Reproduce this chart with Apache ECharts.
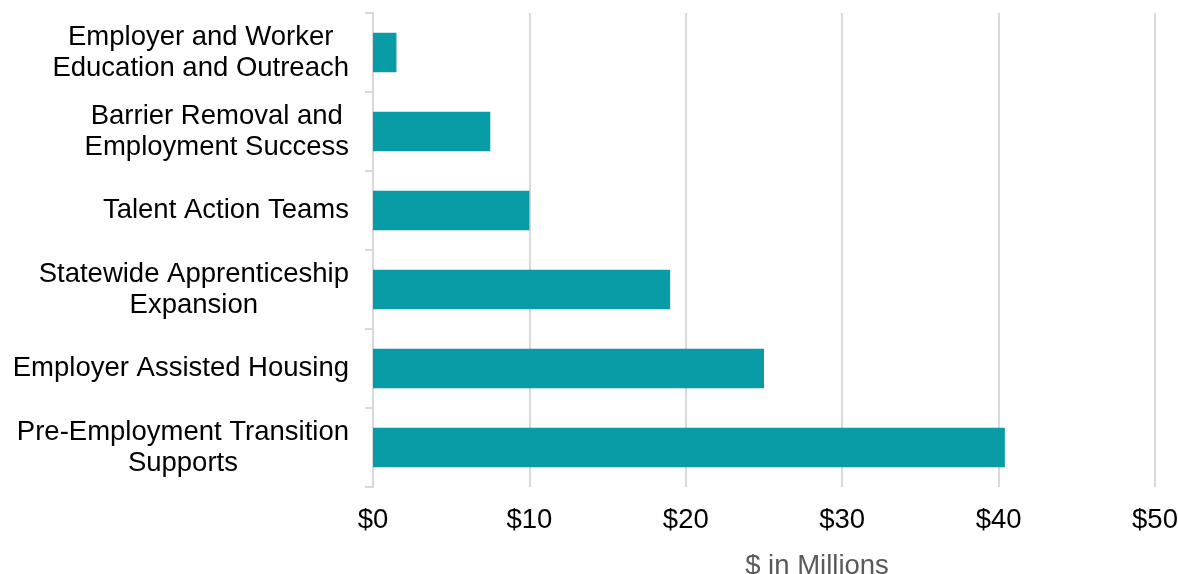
<!DOCTYPE html>
<html>
<head>
<meta charset="utf-8">
<script src="https://cdn.jsdelivr.net/npm/echarts@6/dist/echarts.min.js"></script>
<style>
  html, body { margin: 0; padding: 0; background: #fff; }
  #chart { width: 1178px; height: 574px; }
</style>
</head>
<body>
<div id="chart"></div>
<script>
// Program funding, $ in millions
const categories = [
  'Employer and Worker\nEducation and Outreach',
  'Barrier Removal and\nEmployment Success',
  'Talent Action Teams',
  'Statewide Apprenticeship\nExpansion',
  'Employer Assisted Housing',
  'Pre-Employment Transition\nSupports'
];
const funding = [1.5, 7.5, 10, 19, 25, 40.4];
const xTicks = { min: 0, max: 50, interval: 10 };
const axisTitle = '$ in Millions';

const FONT = '"Liberation Sans", Arial, sans-serif';
const GRID_GREY = '#d9d9d9';
const LABEL_SIZE = 27.5;

// Each line of a category label is centred within its block; the block is right-aligned to the axis.
const centredLines = s => s.split('\n').map(line => '{c|' + line.trim() + '}').join('\n');

const chart = echarts.init(document.getElementById('chart'), null, { renderer: 'canvas' });
chart.setOption({
  backgroundColor: '#ffffff',
  animation: false,
  grid: { left: 373, right: 23, top: 13, bottom: 87, containLabel: false, outerBoundsMode: 'none' },
  xAxis: {
    type: 'value',
    min: xTicks.min,
    max: xTicks.max,
    interval: xTicks.interval,
    axisLine: { show: false },
    axisTick: { show: false },
    splitLine: { show: true, lineStyle: { color: GRID_GREY, width: 2 } },
    axisLabel: {
      formatter: v => '$' + v,
      color: '#000000',
      fontFamily: FONT,
      fontSize: LABEL_SIZE,
      lineHeight: 28,
      margin: 19
    },
    name: axisTitle,
    nameLocation: 'middle',
    nameGap: 65,
    nameTextStyle: {
      color: '#595959',
      fontFamily: FONT,
      fontSize: LABEL_SIZE,
      lineHeight: 28,
      padding: [0, 0, 0, 106]
    }
  },
  yAxis: {
    type: 'category',
    data: categories,
    inverse: true,
    axisLine: { show: true, lineStyle: { color: GRID_GREY, width: 2 } },
    axisTick: { show: true, length: 8, lineStyle: { color: GRID_GREY, width: 2 } },
    axisLabel: {
      formatter: centredLines,
      color: '#000000',
      fontFamily: FONT,
      fontSize: LABEL_SIZE,
      lineHeight: 31,
      margin: 24,
      align: 'right',
      rich: {
        c: {
          align: 'center',
          color: '#000000',
          fontFamily: FONT,
          fontSize: LABEL_SIZE,
          lineHeight: 31
        }
      }
    }
  },
  series: [{
    type: 'bar',
    data: funding,
    barCategoryGap: '50%',
    itemStyle: { color: '#0a9ca6' },
    silent: true
  }]
});
</script>
</body>
</html>
